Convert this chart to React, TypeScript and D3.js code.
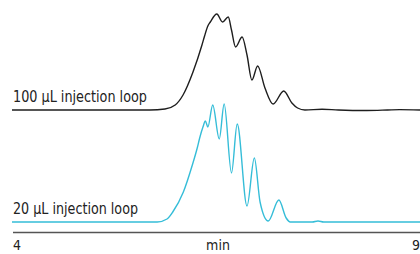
import * as d3 from 'd3';

// retention time (min) and detector signal (arbitrary units)
const loop100Time = [4.0, 5.69, 5.875, 6.0, 6.096, 6.218, 6.328, 6.36, 6.4, 6.43, 6.51, 6.58, 6.65, 6.69, 6.74, 6.82, 6.88, 6.94, 7.01, 7.1, 7.2, 7.33, 7.43, 7.5, 7.59, 7.8, 8.0, 8.35, 8.6, 8.75, 9.0];
const loop100Signal = [0, 0, 1, 5, 15, 38, 65, 74, 84, 88, 96, 88, 93, 80, 63, 73, 55, 30, 44, 22, 6, 19, 7, 2, 0, 0.8, 0, -0.5, 0, 0.4, 0];

const loop20Time = [4.0, 5.78, 5.9, 5.97, 6.1, 6.21, 6.27, 6.3, 6.34, 6.37, 6.4, 6.46, 6.54, 6.6, 6.69, 6.76, 6.88, 6.97, 7.04, 7.14, 7.27, 7.36, 7.41, 7.68, 7.75, 7.82, 9.0];
const loop20Signal = [0, 0, 3, 10, 30, 57, 74, 84, 95, 101, 95, 117, 83, 118, 49, 98, 16, 64, 20, 1, 22, 4, 0, 0, 1, 0, 0];

const traceLabels = ['100 µL injection loop', '20 µL injection loop'];
const tickLabels = ['4', '9'];
const axisTitle = 'min';

const W = 420;
const H = 254;
const font = "'Liberation Sans Narrow', 'DejaVu Sans Condensed', sans-serif";

export default function App() {
  const x = d3.scaleLinear().domain([4, 9]).range([12, 420]);
  // each trace sits on its own baseline
  const yTop = d3.scaleLinear().domain([0, 100]).range([110, 10]);
  const yBottom = d3.scaleLinear().domain([0, 100]).range([222, 122]);

  const lineTop = d3.line<number>()
    .x((_, i) => x(loop100Time[i]))
    .y(d => yTop(d))
    .curve(d3.curveMonotoneX);
  const lineBottom = d3.line<number>()
    .x((_, i) => x(loop20Time[i]))
    .y(d => yBottom(d))
    .curve(d3.curveMonotoneX);

  return (
    <svg width={W} height={H} style={{ position: 'absolute', left: 0, top: 0 }}>
      <rect width={W} height={H} fill="#fff" />
      <path d={lineTop(loop100Signal) ?? ''} fill="none" stroke="#1e1e1e" strokeWidth={1.4} />
      <path d={lineBottom(loop20Signal) ?? ''} fill="none" stroke="#35bdd8" strokeWidth={1.4} />

      <text x={13} y={102} fontFamily={font} fontSize={15} fill="#222"
        textLength={134} lengthAdjust="spacingAndGlyphs">{traceLabels[0]}</text>
      <text x={13} y={214} fontFamily={font} fontSize={15} fill="#222"
        textLength={125} lengthAdjust="spacingAndGlyphs">{traceLabels[1]}</text>

      {/* x axis */}
      <line x1={x(4) + 1} x2={x(9)} y1={232.5} y2={232.5} stroke="#555" strokeWidth={1.5} />
      <text x={x(4) + 1} y={250} fontFamily={font} fontSize={14} fill="#222">{tickLabels[0]}</text>
      <text x={x(9)} y={250} textAnchor="end" fontFamily={font} fontSize={14} fill="#222">{tickLabels[1]}</text>
      <text x={x(6.5) + 2} y={250} textAnchor="middle" fontFamily={font} fontSize={14} fill="#222">{axisTitle}</text>
    </svg>
  );
}
